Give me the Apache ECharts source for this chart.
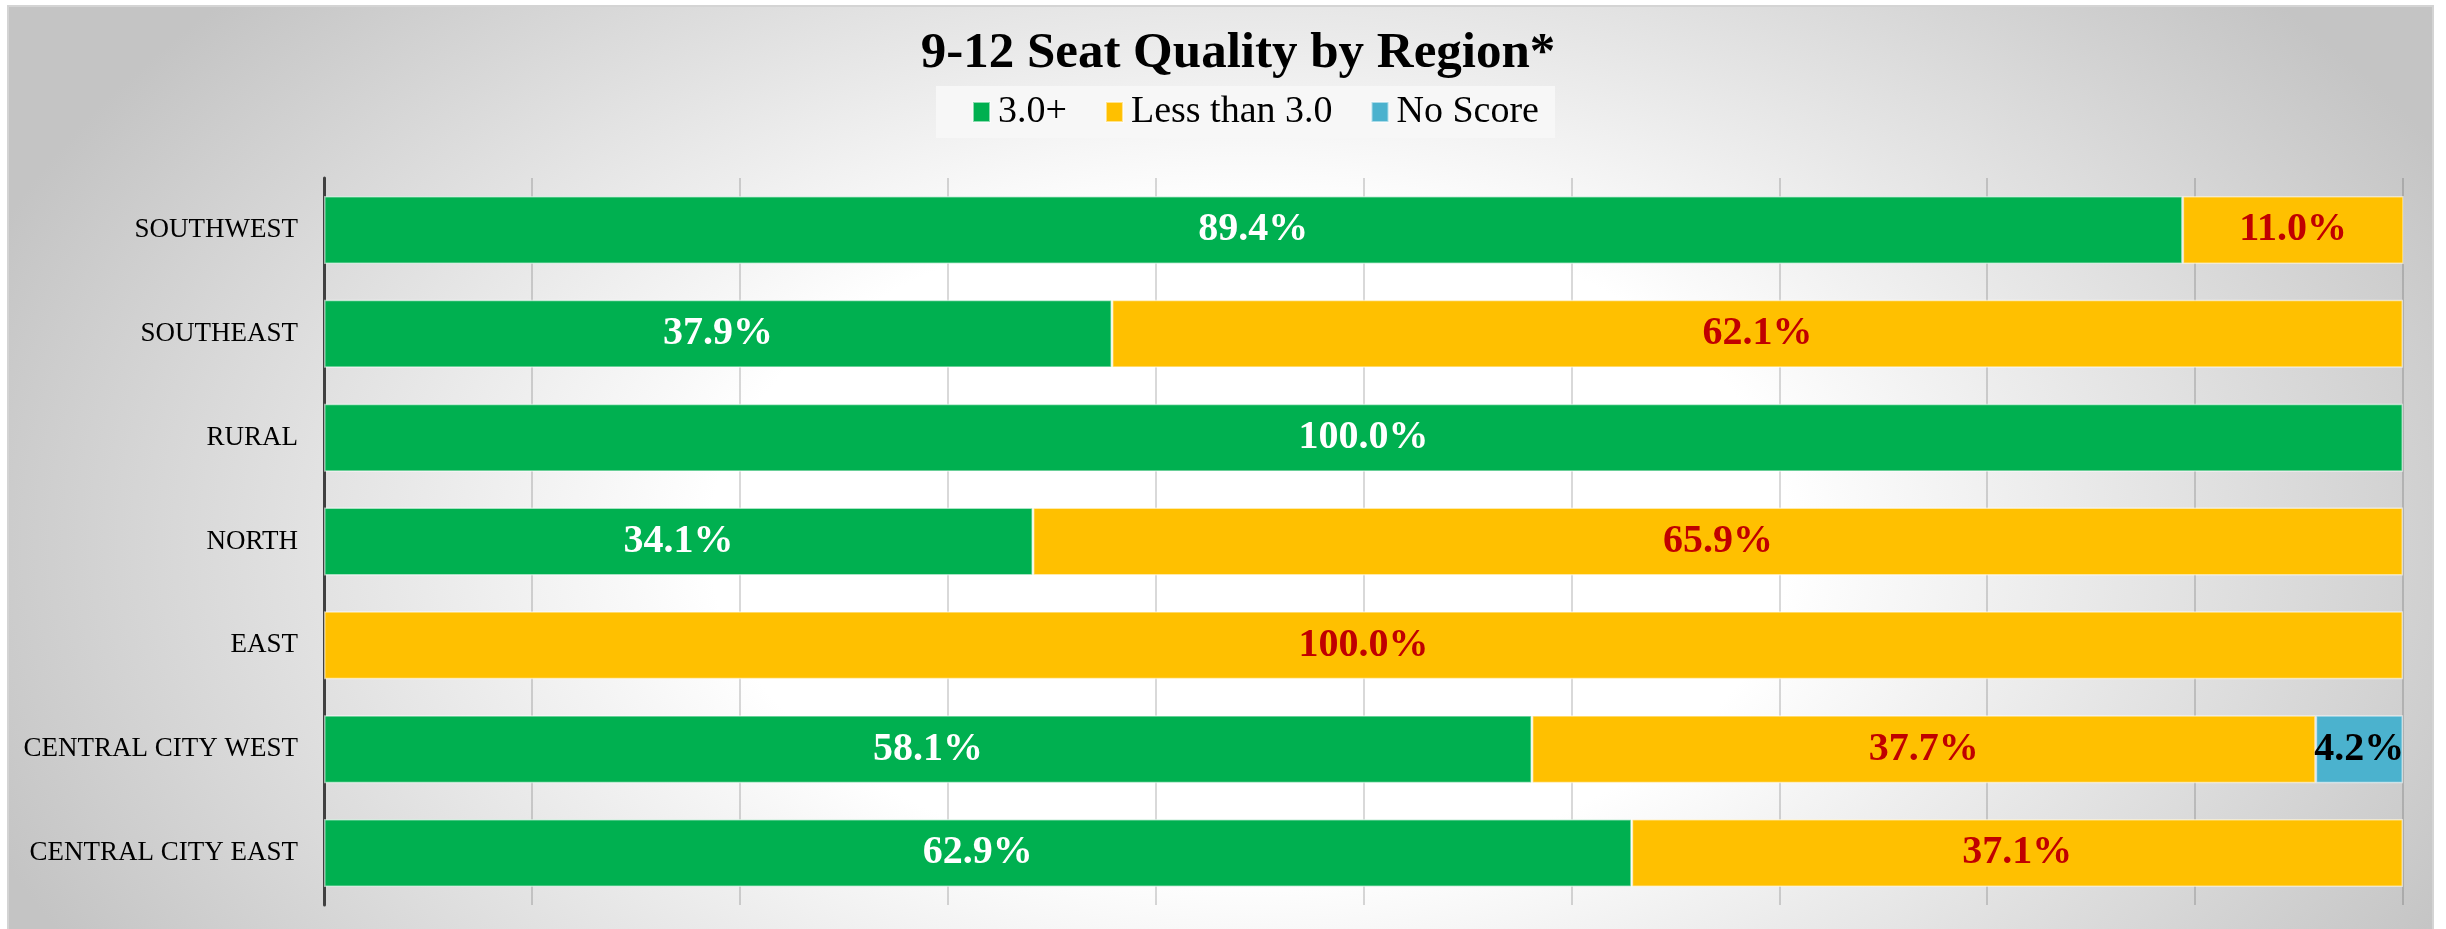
<!DOCTYPE html>
<html>
<head>
<meta charset="utf-8">
<script src="https://cdn.jsdelivr.net/npm/echarts@6/dist/echarts.min.js"></script>
<style>
  html, body { margin: 0; padding: 0; background: #ffffff; }
  #chart { width: 2446px; height: 929px; }
</style>
</head>
<body>
<div id="chart"></div>
<script>
const titleText = '9-12 Seat Quality by Region*';
const categories = ['SOUTHWEST', 'SOUTHEAST', 'RURAL', 'NORTH', 'EAST', 'CENTRAL CITY WEST', 'CENTRAL CITY EAST'];
const seriesNames = ['3.0+', 'Less than 3.0', 'No Score'];
const good = [89.4, 37.9, 100.0, 34.1, 0, 58.1, 62.9];
const low = [11.0, 62.1, 0, 65.9, 100.0, 37.7, 37.1];
const noScore = [0, 0, 0, 0, 0, 4.2, 0];

const FONT = '"Liberation Serif", "DejaVu Serif", serif';
const chart = echarts.init(document.getElementById('chart'));

const W = 2425, H = 923, SX = 1.625;

function mk(name, values, color, labelColor) {
  return {
    name: name,
    type: 'bar',
    stack: 'total',
    barWidth: 68,
    data: values.map(v => (v === 0 ? null : v)),
    itemStyle: { color: color, borderColor: 'rgba(255,255,255,0.55)', borderWidth: 1.5 },
    label: {
      show: true,
      position: 'inside',
      formatter: p => p.value.toFixed(1) + '%',
      color: labelColor,
      fontFamily: FONT,
      fontWeight: 'bold',
      fontSize: 40
    },
    emphasis: { disabled: true }
  };
}

chart.setOption({
  animation: false,
  graphic: [
    {
      type: 'rect', z: -10, silent: true,
      x: 8, y: 6, scaleX: SX,
      shape: { x: 0, y: 0, width: W / SX, height: H },
      style: {
        fill: {
          type: 'radial', x: 0.512, y: 0.58, r: 0.9,
          colorStops: [
            { offset: 0, color: '#ffffff' },
            { offset: 0.4, color: '#ffffff' },
            { offset: 1, color: '#c4c4c4' }
          ]
        }
      }
    },
    {
      type: 'rect', z: -9, silent: true,
      shape: { x: 8, y: 6, width: W, height: H + 4 },
      style: { fill: 'none', stroke: '#d4d4d4', lineWidth: 2 }
    }
  ],
  title: {
    text: titleText,
    left: 1238,
    top: 28,
    padding: 0,
    textAlign: 'center',
    textStyle: { fontFamily: FONT, fontWeight: 'bold', fontSize: 51, color: '#000000' }
  },
  legend: {
    data: seriesNames,
    left: 936,
    top: 86,
    padding: [7, 16, 7, 36],
    backgroundColor: '#f7f7f7',
    itemWidth: 17,
    itemHeight: 20,
    itemGap: 38,
    icon: 'rect',
    textStyle: { fontFamily: FONT, fontSize: 38, lineHeight: 38, color: '#000000', padding: [0, 0, 0, 3] }
  },
  grid: { left: 324, right: 43, top: 178, bottom: 24, containLabel: false },
  xAxis: {
    type: 'value',
    min: 0, max: 100, interval: 10,
    axisLabel: { show: false },
    axisLine: { show: false },
    axisTick: { show: false },
    splitLine: { show: true, lineStyle: { color: 'rgba(0,0,0,0.2)', width: 1.5 } }
  },
  yAxis: {
    type: 'category',
    inverse: true,
    data: categories,
    axisLine: { show: true, lineStyle: { color: '#404040', width: 3 } },
    axisTick: { show: false },
    axisLabel: { margin: 26, fontFamily: FONT, fontSize: 27, color: '#000000' }
  },
  series: [
    mk(seriesNames[0], good, '#00B050', '#ffffff'),
    mk(seriesNames[1], low, '#FFC000', '#C00000'),
    mk(seriesNames[2], noScore, '#4BB2CE', '#000000')
  ]
});
</script>
</body>
</html>
